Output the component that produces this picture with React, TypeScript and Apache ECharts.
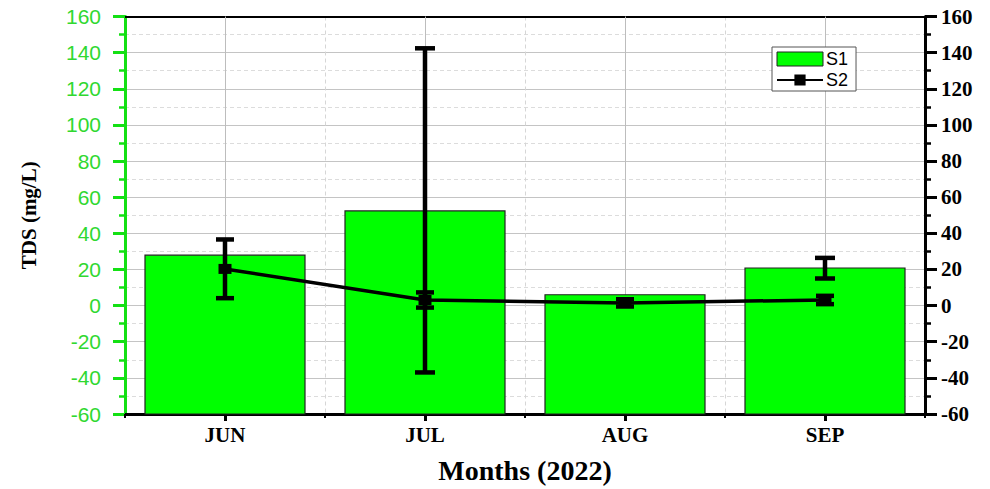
import React, { useEffect, useRef } from "react";
import * as echarts from "echarts";

const categories = ["JUN", "JUL", "AUG", "SEP"];
const s1Values = [27.9, 52.4, 6.0, 20.8];
const s2Values = [20.3, 3.1, 1.5, 3.1];
// S1 error bar limits (null = none drawn)
const s1ErrLow: (number | null)[] = [null, -37.0, null, 15.0];
const s1ErrHigh: (number | null)[] = [null, 142.4, null, 26.4];
// S2 error bar limits
const s2ErrLow = [4.1, -1.1, -0.5, 0.8];
const s2ErrHigh = [36.6, 7.3, 3.5, 5.4];
const yMin = -60;
const yMax = 160;
const yInterval = 20;

const SERIF = "'Liberation Serif', 'Times New Roman', serif";
const SANS = "'Liberation Sans', Arial, sans-serif";
const GREEN_AXIS = "#14e014";
const GREEN_LABEL = "#30d830";
const BAR_GREEN = "#00ff00";

function errData(lo: (number | null)[], hi: (number | null)[]) {
  const out: number[][] = [];
  categories.forEach((_, i) => {
    const l = lo[i];
    const h = hi[i];
    if (l != null && h != null) out.push([i, l, h]);
  });
  return out;
}

function makeErrRender(capW: number) {
  return (params: any, api: any) => {
    const x = api.value(0);
    const lo = api.value(1);
    const hi = api.value(2);
    const pLo = api.coord([x, lo]);
    const pHi = api.coord([x, hi]);
    const hw = capW / 2;
    const st = { stroke: "#000", lineWidth: 4.5 };
    return {
      type: "group",
      children: [
        { type: "line", shape: { x1: pLo[0], y1: pLo[1], x2: pHi[0], y2: pHi[1] }, style: st },
        { type: "line", shape: { x1: pLo[0] - hw, y1: pLo[1], x2: pLo[0] + hw, y2: pLo[1] }, style: st },
        { type: "line", shape: { x1: pHi[0] - hw, y1: pHi[1], x2: pHi[0] + hw, y2: pHi[1] }, style: st },
      ],
    };
  };
}

function renderBar(params: any, api: any) {
  const i = api.value(0);
  const v = api.value(1);
  const top = api.coord([i, v]);
  const base = api.coord([i, yMin]);
  const w = api.size([1, 0])[0] * 0.8;
  return {
    type: "rect",
    shape: { x: top[0] - w / 2, y: top[1], width: w, height: base[1] - top[1] },
    style: { fill: BAR_GREEN, stroke: "#222", lineWidth: 1.2 },
  };
}

export default function App() {
  const ref = useRef<HTMLDivElement>(null);
  useEffect(() => {
    if (!ref.current) return;
    const chart = echarts.init(ref.current, undefined, { renderer: "svg", width: 990, height: 489 });
    chart.setOption({
      animation: false,
      backgroundColor: "#fff",
      grid: { left: 125, right: 65, top: 16.5, bottom: 66.5, containLabel: false },
      legend: {
        left: 772,
        top: 47,
        orient: "vertical",
        data: [
          { name: "S1", icon: "rect", itemStyle: { color: BAR_GREEN, borderColor: "#222", borderWidth: 1 } },
          { name: "S2" },
        ],
        itemWidth: 46,
        itemHeight: 14,
        itemGap: 3,
        padding: [3, 8, 2, 4],
        borderColor: "#555",
        borderWidth: 1,
        backgroundColor: "#fff",
        textStyle: { fontFamily: SANS, fontSize: 18, color: "#000", padding: [0, 0, 0, -2] },
      },
      xAxis: [
        {
          type: "category",
          data: categories,
          position: "bottom",
          axisLine: { show: true, onZero: false, lineStyle: { color: "#000", width: 3 } },
          axisTick: { show: true, alignWithLabel: true, length: 7, lineStyle: { color: "#000", width: 3 } },
          axisLabel: { fontFamily: SERIF, fontWeight: "bold", fontSize: 21, color: "#000", margin: 10 },
          splitLine: { show: false },
          name: "Months (2022)",
          nameLocation: "middle",
          nameGap: 42,
          nameTextStyle: { fontFamily: SERIF, fontWeight: "bold", fontSize: 28, color: "#000" },
        },
        {
          type: "category",
          data: categories,
          position: "bottom",
          axisLine: { show: false, onZero: false },
          axisTick: { show: true, length: 4, lineStyle: { color: "#000", width: 2 } },
          axisLabel: { show: false },
          splitLine: { show: true, lineStyle: { color: "#d6d6d6", type: [4, 3], width: 1 } },
        },
        {
          type: "category",
          data: categories,
          position: "top",
          axisLine: { show: true, onZero: false, lineStyle: { color: "#000", width: 2 } },
          axisTick: { show: false },
          axisLabel: { show: false },
          splitLine: { show: false },
        },
      ],
      yAxis: [
        {
          type: "value",
          min: yMin,
          max: yMax,
          interval: yInterval,
          position: "left",
          axisLine: { show: true, lineStyle: { color: GREEN_AXIS, width: 3 } },
          axisTick: { show: true, length: 12, lineStyle: { color: GREEN_AXIS, width: 3 } },
          minorTick: { show: true, splitNumber: 2, length: 6, lineStyle: { color: GREEN_AXIS, width: 2.5 } },
          axisLabel: { fontFamily: SANS, fontSize: 21, color: GREEN_LABEL, margin: 24 },
          splitLine: { show: true, lineStyle: { color: "#c4c4c4", width: 1 } },
          minorSplitLine: { show: true, lineStyle: { color: "#dcdcdc", type: [4, 3], width: 1 } },
          name: "TDS (mg/L)",
          nameLocation: "middle",
          nameGap: 86,
          nameTextStyle: { fontFamily: SERIF, fontWeight: "bold", fontSize: 21, color: "#000" },
        },
        {
          type: "value",
          min: yMin,
          max: yMax,
          interval: yInterval,
          position: "right",
          axisLine: { show: true, lineStyle: { color: "#000", width: 3 } },
          axisTick: { show: true, length: 12, lineStyle: { color: "#000", width: 3 } },
          minorTick: { show: true, splitNumber: 2, length: 6, lineStyle: { color: "#000", width: 2.5 } },
          axisLabel: { fontFamily: SERIF, fontWeight: "bold", fontSize: 21, color: "#000", margin: 16 },
          splitLine: { show: false },
        },
      ],
      series: [
        {
          name: "S1",
          type: "custom",
          xAxisIndex: 0,
          yAxisIndex: 0,
          z: 2,
          renderItem: renderBar,
          encode: { x: 0, y: 1 },
          itemStyle: { color: BAR_GREEN },
          data: s1Values.map((v, i) => [i, v]),
          markLine: {
            silent: true,
            symbol: "none",
            z: 1,
            label: { show: false },
            lineStyle: { color: "#bdbdbd", type: "solid", width: 1 },
            data: categories.map((c) => ({ xAxis: c })),
          },
        },
        {
          name: "S1err",
          type: "custom",
          xAxisIndex: 0,
          yAxisIndex: 0,
          z: 4,
          renderItem: makeErrRender(20),
          encode: { x: 0, y: [1, 2] },
          data: errData(s1ErrLow, s1ErrHigh),
        },
        {
          name: "S2err",
          type: "custom",
          xAxisIndex: 0,
          yAxisIndex: 0,
          z: 4,
          renderItem: makeErrRender(18),
          encode: { x: 0, y: [1, 2] },
          data: errData(s2ErrLow, s2ErrHigh),
        },
        {
          name: "S2",
          type: "line",
          xAxisIndex: 0,
          yAxisIndex: 0,
          data: s2Values,
          z: 5,
          symbol: "rect",
          symbolSize: [13, 10],
          lineStyle: { color: "#000", width: 3.5 },
          itemStyle: { color: "#000" },
        },
      ],
    });
    return () => chart.dispose();
  }, []);
  return (
    <div
      ref={ref}
      style={{ position: "fixed", left: 0, top: 0, width: 990, height: 489 }}
    />
  );
}
